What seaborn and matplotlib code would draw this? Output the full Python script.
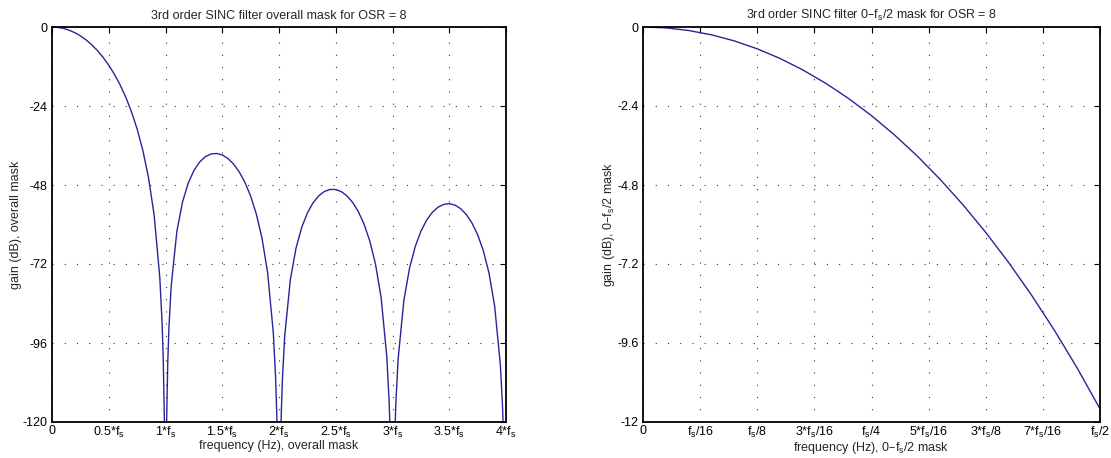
import matplotlib
matplotlib.use("Agg")
import matplotlib.pyplot as plt
import seaborn as sns

# ---- data (gain in dB; nulls fall far below the axis) ----
freq_overall = [0.00, 0.05, 0.10, 0.15, 0.20, 0.25, 0.30, 0.35, 0.40, 0.45,
                0.50, 0.55, 0.60, 0.65, 0.70, 0.75, 0.80, 0.85, 0.90, 0.95,
                0.97, 0.98, 0.99, 0.995, 1.00, 1.005, 1.01, 1.02, 1.03, 1.05,
                1.10, 1.15, 1.20, 1.25, 1.30, 1.35, 1.40, 1.45, 1.50, 1.55,
                1.60, 1.65, 1.70, 1.75, 1.80, 1.85, 1.90, 1.95, 1.97, 1.98,
                1.99, 2.00, 2.01, 2.02, 2.03, 2.05, 2.10, 2.15, 2.20, 2.25,
                2.30, 2.35, 2.40, 2.45, 2.50, 2.55, 2.60, 2.65, 2.70, 2.75,
                2.80, 2.85, 2.90, 2.95, 2.97, 2.98, 2.99, 3.00, 3.01, 3.02,
                3.03, 3.05, 3.10, 3.15, 3.20, 3.25, 3.30, 3.35, 3.40, 3.45,
                3.50, 3.55, 3.60, 3.65, 3.70, 3.75, 3.80, 3.85, 3.90, 3.95,
                3.97, 3.98, 3.99, 4.00]
gain_overall = [0.00, -0.11, -0.42, -0.96, -1.71, -2.69, -3.92, -5.40, -7.15, -9.21,
                -11.60, -14.37, -17.58, -21.33, -25.73, -30.99, -37.43, -45.69, -57.14, -76.23,
                -89.99, -100.78, -119.08, -137.3, -200.0, -137.5, -119.58, -101.77, -91.47, -78.70,
                -62.10, -53.16, -47.46, -43.62, -41.05, -39.42, -38.58, -38.41, -38.87, -39.94,
                -41.65, -44.04, -47.21, -51.36, -56.79, -64.10, -74.69, -92.97, -106.42, -117.07,
                -135.2, -200.0, -135.4, -117.48, -107.04, -94.00, -76.74, -67.18, -60.89, -56.51,
                -53.41, -51.29, -49.97, -49.35, -49.38, -50.03, -51.34, -53.34, -56.15, -59.94,
                -65.03, -72.01, -82.28, -100.25, -113.58, -124.16, -142.3, -200.0, -142.3, -124.3,
                -113.83, -100.67, -83.12, -73.28, -66.72, -62.07, -58.71, -56.33, -54.76, -53.90,
                -53.68, -54.10, -55.17, -56.95, -59.53, -63.09, -67.95, -74.72, -84.77, -102.52,
                -115.77, -126.3, -144.4, -200.0]

freq_band = [0.000, 0.025, 0.050, 0.075, 0.100, 0.125, 0.150, 0.175, 0.200, 0.225,
             0.250, 0.275, 0.300, 0.325, 0.350, 0.375, 0.400, 0.425, 0.450, 0.475, 0.500]
gain_band = [0.000, -0.026, -0.106, -0.238, -0.423, -0.663, -0.956, -1.306, -1.711, -2.173,
             -2.694, -3.276, -3.918, -4.626, -5.398, -6.240, -7.153, -8.142, -9.209, -10.359, -11.600]

overall_xticks = [0, 0.5, 1, 1.5, 2, 2.5, 3, 3.5, 4]
overall_xlabels = ['0', '0.5*f$_s$', '1*f$_s$', '1.5*f$_s$', '2*f$_s$', '2.5*f$_s$',
                   '3*f$_s$', '3.5*f$_s$', '4*f$_s$']
overall_yticks = [0, -24, -48, -72, -96, -120]
overall_ylabels = ['0', '-24', '-48', '-72', '-96', '-120']

band_xticks = [0, 0.0625, 0.125, 0.1875, 0.25, 0.3125, 0.375, 0.4375, 0.5]
band_xlabels = ['0', 'f$_s$/16', 'f$_s$/8', '3*f$_s$/16', 'f$_s$/4', '5*f$_s$/16',
                '3*f$_s$/8', '7*f$_s$/16', 'f$_s$/2']
band_yticks = [0, -2.4, -4.8, -7.2, -9.6, -12]
band_ylabels = ['0', '-2.4', '-4.8', '-7.2', '-9.6', '-12']

titles = ['3rd order SINC filter overall mask for OSR = 8',
          '3rd order SINC filter 0\u2013f$_s$/2 mask for OSR = 8']
xlabels = ['frequency (Hz), overall mask', 'frequency (Hz), 0\u2013f$_s$/2 mask']
ylabels = ['gain (dB), overall mask', 'gain (dB), 0\u2013f$_s$/2 mask']

# ---- style ----
sns.set_style("white")
plt.rcParams['font.family'] = ['Liberation Sans', 'DejaVu Sans']
plt.rcParams['mathtext.default'] = 'regular'
FS = 9
plt.rcParams['font.size'] = FS

line_color = '#26269a'
fig = plt.figure(figsize=(11.11, 4.58), dpi=100)
W, H = 1111, 458
ax1 = fig.add_axes([52 / W, 1 - 422 / H, (506 - 52) / W, (422 - 27) / H])
ax2 = fig.add_axes([643 / W, 1 - 422 / H, (1100 - 643) / W, (422 - 27) / H])

sns.lineplot(x=freq_overall, y=gain_overall, ax=ax1, color=line_color, linewidth=1.0,
             sort=False, estimator=None)
sns.lineplot(x=freq_band, y=gain_band, ax=ax2, color=line_color, linewidth=1.0,
             sort=False, estimator=None)

specs = [
    (ax1, (0, 4), (-120, 0), overall_xticks, overall_xlabels, overall_yticks, overall_ylabels),
    (ax2, (0, 0.5), (-12, 0), band_xticks, band_xlabels, band_yticks, band_ylabels),
]
for i, (ax, xl, yl, xt, xtl, yt, ytl) in enumerate(specs):
    ax.set_xlim(*xl)
    ax.set_ylim(*yl)
    ax.set_xticks(xt)
    ax.set_xticklabels(xtl)
    ax.set_yticks(yt)
    ax.set_yticklabels(ytl)
    ax.tick_params(direction='in', length=4, width=0.8, top=True, right=True,
                   labelsize=FS, pad=3, colors='black')
    ax.tick_params(axis='x', pad=2)
    ax.grid(True, color='#333333', linestyle=(0, (1, 10)), linewidth=0.8)
    for sp in ax.spines.values():
        sp.set_visible(True)
        sp.set_color('black')
        sp.set_linewidth(1.3)
    ax.set_title(titles[i], fontsize=FS, pad=6)
    ax.set_xlabel(xlabels[i], fontsize=FS, labelpad=0)
    ax.set_ylabel(ylabels[i], fontsize=FS, labelpad=0.5)

fig.savefig('out.png', dpi=100)
